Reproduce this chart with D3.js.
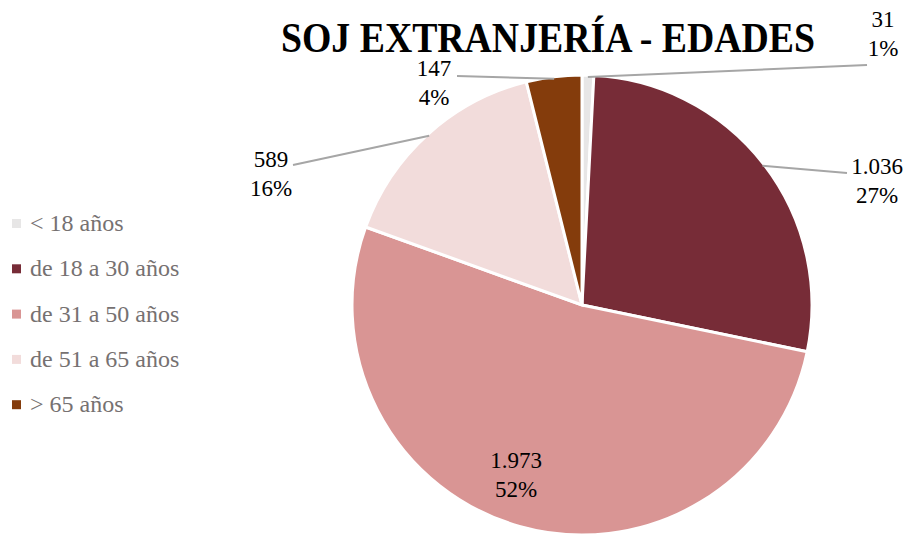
<!DOCTYPE html>
<html>
<head>
<meta charset="utf-8">
<script src="https://cdn.jsdelivr.net/npm/d3@7"></script>
<style>
  body { margin: 0; background: #fff; }
  text { font-family: "Liberation Serif", "DejaVu Serif", serif; }
</style>
</head>
<body>
<div id="chart"></div>
<script>
// data
const categories = ["< 18 años", "de 18 a 30 años", "de 31 a 50 años", "de 51 a 65 años", "> 65 años"];
const values = [31, 1036, 1973, 589, 147];
const valueLabels = ["31", "1.036", "1.973", "589", "147"];
const percentLabels = ["1%", "27%", "52%", "16%", "4%"];
const sliceColors = ["#e7e6e6", "#772c37", "#d99594", "#f2dcdb", "#843c0c"];

const width = 909, height = 536;
const cx = 582, cy = 305, radius = 230;

// label placement (offset from pie centre), null line = label inside slice
const labelLayout = [
    { dx: 301, dy: -278, line: [285, -240] },
    { dx: 295, dy: -131, line: [265, -132] },
    { dx: -66, dy: 163, line: null },
    { dx: -311, dy: -138, line: [-289, -140] },
    { dx: -148, dy: -229, line: [-125, -229] }
];

const svg = d3.select("#chart")
    .append("svg")
    .attr("width", width)
    .attr("height", height);

// title
svg.append("text")
    .attr("x", 548)
    .attr("y", 52)
    .attr("text-anchor", "middle")
    .attr("textLength", 534)
    .attr("lengthAdjust", "spacingAndGlyphs")
    .style("font-size", "42px")
    .style("font-weight", "bold")
    .style("fill", "#000")
    .text("SOJ EXTRANJERÍA - EDADES");

const pie = d3.pie().sort(null).value(d => d)(values);
const arc = d3.arc().innerRadius(0).outerRadius(radius);
const edgeArc = d3.arc().innerRadius(radius - 2).outerRadius(radius - 2);

const g = svg.append("g").attr("transform", "translate(" + cx + "," + cy + ")");

g.selectAll(".slice")
    .data(pie)
    .enter().append("path")
    .attr("class", "slice")
    .attr("d", arc)
    .style("fill", (d, i) => sliceColors[i])
    .style("stroke", "#fff")
    .style("stroke-width", 3);

// leader lines
g.selectAll(".leader")
    .data(pie.filter((d, i) => labelLayout[i].line))
    .enter().append("polyline")
    .attr("class", "leader")
    .attr("points", d => {
        const p = edgeArc.centroid(d);
        const e = labelLayout[d.index].line;
        return [p, e].map(q => q.join(",")).join(" ");
    })
    .style("fill", "none")
    .style("stroke", "#a6a6a6")
    .style("stroke-width", 2);

// data labels
const labels = g.selectAll(".dlabel")
    .data(pie)
    .enter().append("text")
    .attr("class", "dlabel")
    .attr("text-anchor", "middle")
    .style("font-size", "23px")
    .style("fill", "#000");

labels.append("tspan")
    .attr("x", d => labelLayout[d.index].dx)
    .attr("y", d => labelLayout[d.index].dy)
    .text(d => valueLabels[d.index]);
labels.append("tspan")
    .attr("x", d => labelLayout[d.index].dx)
    .attr("y", d => labelLayout[d.index].dy + 29)
    .text(d => percentLabels[d.index]);

// legend
const legend = svg.append("g").attr("transform", "translate(12,231)");
const item = legend.selectAll(".legend")
    .data(categories)
    .enter().append("g")
    .attr("class", "legend")
    .attr("transform", (d, i) => "translate(0," + (i * 45.3) + ")");

item.append("rect")
    .attr("x", 0)
    .attr("y", -12)
    .attr("width", 9)
    .attr("height", 9)
    .style("fill", (d, i) => sliceColors[i]);

item.append("text")
    .attr("x", 18)
    .attr("y", 0)
    .style("font-size", "24px")
    .style("fill", "#767171")
    .text(d => d);
</script>
</body>
</html>
